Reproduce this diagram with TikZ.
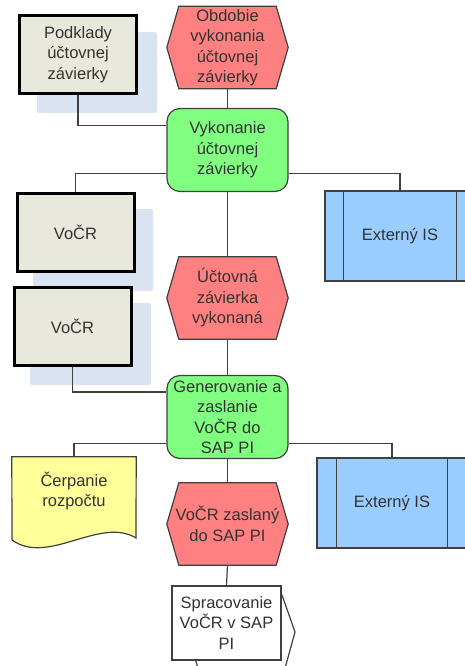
\documentclass[tikz,border=0pt]{standalone}
\usepackage{fontspec}
\setmainfont{Liberation Sans}
\usetikzlibrary{backgrounds}
\definecolor{lc}{HTML}{404040}
\definecolor{txt}{HTML}{333333}
\definecolor{grn}{HTML}{80FF80}
\definecolor{rd}{HTML}{FF8080}
\definecolor{bl}{HTML}{99CCFF}
\definecolor{yl}{HTML}{FFFF99}
\definecolor{bx}{HTML}{E8E8DC}
\definecolor{sh}{HTML}{DAE3F1}
\tikzset{
  every node/.style={font=\fontsize{16.5}{20.5}\selectfont, text=txt, align=center, inner sep=1pt},
  conn/.style={draw=lc, line width=1.2pt},
  databox/.style={draw=black, line width=3pt, fill=bx, minimum width=117pt, minimum height=78pt},
  shadowbox/.style={fill=sh, rounded corners=2pt},
  funbox/.style={draw=lc, line width=1.2pt, fill=grn, rounded corners=13pt, minimum width=121pt, minimum height=83pt},
  evtbox/.style={minimum width=121pt, minimum height=82pt},
  evtfill/.style={draw=lc, line width=1.2pt, fill=rd},
  extbox/.style={draw=lc, line width=1.2pt, fill=bl, minimum width=150pt, minimum height=90pt},
  docfill/.style={draw=lc, line width=1.2pt, fill=yl},
  ifbox/.style={draw=lc, line width=1.2pt, fill=white, minimum width=109pt, minimum height=74pt},
}
\newcommand\hexshape[1]{%
  \path[evtfill] ([xshift=12pt]#1.north west) -- ([xshift=-12pt]#1.north east) -- (#1.east)
    -- ([xshift=-12pt]#1.south east) -- ([xshift=12pt]#1.south west) -- (#1.west) -- cycle;}
\begin{document}
\begin{tikzpicture}[x=1pt,y=-1pt]
\useasboundingbox (0,0) rectangle (465,666);
% nodes
\node[databox] (pod) at (78,54.5) {Podklady\\účtovnej\\závierky};
\node[evtbox] (e1) at (227.5,47.5) {Obdobie\\vykonania\\účtovnej\\závierky};
\node[funbox] (vyk) at (227.5,150) {Vykonanie\\účtovnej\\závierky};
\node[databox] (vocr1) at (75.5,232) {VoČR};
\node[databox] (vocr2) at (72.5,326) {VoČR};
\node[extbox] (ext1) at (400,236) {Externý IS};
\node[evtbox] (e2) at (227.5,298) {Účtovná\\závierka\\vykonaná};
\node[funbox] (gen) at (227.5,417) {Generovanie a\\zaslanie\\VoČR do\\SAP PI};
\node[minimum width=124pt, minimum height=68pt] (cerp) at (74,491) {Čerpanie\\rozpočtu};
\node[extbox] (ext2) at (392,503) {Externý IS};
\node[evtbox] (e3) at (227.5,524) {VoČR zaslaný\\do SAP PI};
\node[ifbox] (spr) at (226.5,623) {Spracovanie\\VoČR v SAP\\PI};
% inner lines of external systems
\draw[conn] ([xshift=19pt]ext1.north west) -- ([xshift=19pt]ext1.south west);
\draw[conn] ([xshift=-19pt]ext1.north east) -- ([xshift=-19pt]ext1.south east);
\draw[conn] ([xshift=20pt]ext2.north west) -- ([xshift=20pt]ext2.south west);
\draw[conn] ([xshift=-20pt]ext2.north east) -- ([xshift=-20pt]ext2.south east);
\begin{scope}[on background layer]
  \fill[shadowbox] (37,32) rectangle (157,113);
  \fill[shadowbox] (33,209) rectangle (153,291);
  \fill[shadowbox] (30,303) rectangle (151,385);
  \hexshape{e1}
  \hexshape{e2}
  \hexshape{e3}
  \path[docfill] (cerp.north west) -- (cerp.north east) -- (136,538)
    .. controls (100,516) and (48,566) .. (12,540) -- cycle;
  \path[draw=lc, line width=1.2pt, fill=white] (196,595) -- (282,595) -- (295,632)
    -- (284,672) -- (199,672) -- (195,658) -- cycle;
  % connectors
  \draw[conn] (pod.south) |- ([yshift=-18pt]vyk.north west);
  \draw[conn] (e1.south) -- (vyk.north);
  \draw[conn] ([yshift=19pt]vyk.south west) -| (vocr1.north);
  \draw[conn] ([yshift=19pt]vyk.south east) -| (ext1.north);
  \draw[conn] (vyk.south) -- (e2.north);
  \draw[conn] (e2.south) -- (gen.north);
  \draw[conn] (vocr2.south) |- ([yshift=-17pt]gen.north west);
  \draw[conn] ([yshift=16pt]gen.south west) -| (cerp.north);
  \draw[conn] ([yshift=16pt]gen.south east) -| (ext2.north);
  \draw[conn] (gen.south) -- (e3.north);
  \draw[conn] (e3.south) -- (spr.north);
\end{scope}
\end{tikzpicture}
\end{document}
